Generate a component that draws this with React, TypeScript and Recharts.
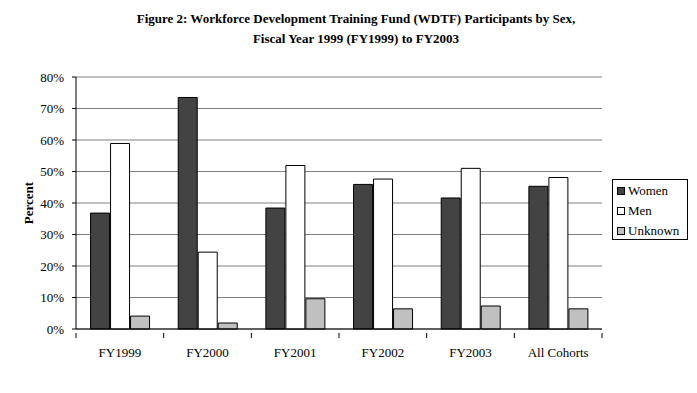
import React from "react"
import { Bar, BarChart, CartesianGrid, XAxis, YAxis } from "recharts"

const cohorts = ["FY1999", "FY2000", "FY2001", "FY2002", "FY2003", "All Cohorts"]
const women = [36.8, 73.5, 38.4, 45.9, 41.6, 45.3]
const men = [58.9, 24.4, 51.9, 47.6, 51.0, 48.1]
const unknown = [4.1, 1.9, 9.6, 6.4, 7.3, 6.4]
const yTicks = [0, 10, 20, 30, 40, 50, 60, 70, 80]

const series = [
    { key: "women", name: "Women", fill: "#434343" },
    { key: "men", name: "Men", fill: "#ffffff" },
    { key: "unknown", name: "Unknown", fill: "#c0c0c0" },
]

const data = cohorts.map((name, i) => ({
    name,
    women: women[i],
    men: men[i],
    unknown: unknown[i],
}))

const FONT = "'Liberation Serif', 'DejaVu Serif', serif"
const BAND = 526 / cohorts.length

const CategoryTick = (props: any) => {
    const { x, y, payload, index } = props
    const left = x - BAND / 2
    const right = x + BAND / 2
    return (
        <g>
            <line x1={left} y1={y - 4} x2={left} y2={y + 1} stroke="#000" />
            {index === cohorts.length - 1 && (
                <line x1={right} y1={y - 4} x2={right} y2={y + 1} stroke="#000" />
            )}
            <text x={x} y={y + 20} textAnchor="middle" fontSize={13} fontFamily={FONT} fill="#000">
                {payload.value}
            </text>
        </g>
    )
}

const LegendBox = () => (
    <div
        style={{
            position: "absolute",
            left: 612,
            top: 179,
            border: "1px solid #000",
            background: "#fff",
            width: 76,
            height: 61,
            padding: "1px 0 0 4px",
            boxSizing: "border-box",
            fontFamily: FONT,
            fontSize: 13,
        }}
    >
        {series.map((s) => (
            <div key={s.key} style={{ display: "flex", alignItems: "center", height: 20 }}>
                <span
                    style={{
                        display: "inline-block",
                        width: 6,
                        height: 6,
                        background: s.fill,
                        border: "1px solid #000",
                        marginRight: 3,
                    }}
                />
                <span>{s.name}</span>
            </div>
        ))}
    </div>
)

export default function App() {
    return (
        <div style={{ position: "absolute", left: 0, top: 0, width: 697, height: 393, background: "#fff" }}>
            <div
                style={{
                    position: "absolute",
                    left: 0,
                    top: 9,
                    width: 712,
                    textAlign: "center",
                    fontFamily: FONT,
                    fontWeight: "bold",
                    fontSize: 13,
                    lineHeight: "20px",
                }}
            >
                Figure 2: Workforce Development Training Fund (WDTF) Participants by Sex,
                <br />
                Fiscal Year 1999 (FY1999) to FY2003
            </div>
            <BarChart
                width={697}
                height={393}
                data={data}
                margin={{ top: 77, right: 95, bottom: 34, left: 26 }}
                barCategoryGap="16.6%"
                barGap={1}
            >
                <CartesianGrid vertical={false} stroke="#808080" />
                <XAxis
                    dataKey="name"
                    height={30}
                    stroke="#000"
                    tickLine={false}
                    tick={<CategoryTick />}
                    interval={0}
                />
                <YAxis
                    width={50}
                    domain={[0, 80]}
                    ticks={yTicks}
                    stroke="#000"
                    tickSize={4}
                    tickMargin={8}
                    tickFormatter={(v) => `${v}%`}
                    tick={{ fontSize: 13, fontFamily: FONT, fill: "#000" }}
                    label={{
                        content: () => (
                            <text
                                x={33}
                                y={203}
                                transform="rotate(-90 33 203)"
                                textAnchor="middle"
                                fontSize={13}
                                fontWeight="bold"
                                fontFamily={FONT}
                                fill="#000"
                            >
                                Percent
                            </text>
                        ),
                    }}
                />
                {series.map((s) => (
                    <Bar
                        key={s.key}
                        dataKey={s.key}
                        name={s.name}
                        fill={s.fill}
                        stroke="#000"
                        strokeWidth={1}
                        isAnimationActive={false}
                    />
                ))}
            </BarChart>
            <LegendBox />
        </div>
    )
}
